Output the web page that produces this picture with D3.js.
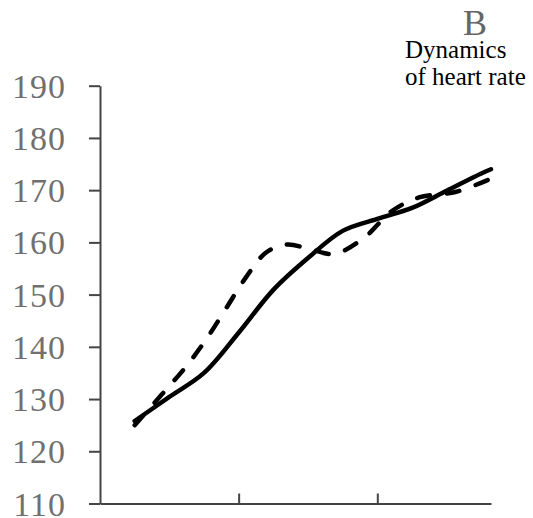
<!DOCTYPE html>
<html>
<head>
<meta charset="utf-8">
<script src="https://cdn.jsdelivr.net/npm/d3@7"></script>
<style>
  html, body { margin: 0; padding: 0; background: #fff; }
  svg { display: block; }
</style>
</head>
<body>
<svg id="chart" width="533" height="518"></svg>
<script>
// Data (x in axis units: tick marks at 1 and 2)
const yTicks = [110, 120, 130, 140, 150, 160, 170, 180, 190];
const xTicks = [1, 2];

const solidX = [0.25, 0.5, 0.75, 1.0, 1.25, 1.5, 1.75, 2.0, 2.25, 2.5, 2.75, 2.82];
const solidY = [125.8, 130.4, 135.0, 142.7, 150.9, 157.0, 162.2, 164.5, 166.6, 169.9, 173.2, 174.0];

const dashedX = [0.25, 0.45, 0.62, 0.77, 0.91, 1.05, 1.2, 1.35, 1.5, 1.69, 1.91, 2.1, 2.3, 2.57, 2.82];
const dashedY = [125.0, 131.0, 136.2, 141.6, 147.4, 153.2, 158.1, 159.6, 158.8, 157.8, 161.0, 165.9, 168.6, 169.7, 172.2];

const titleLetter = "B";
const titleLines = ["Dynamics", "of heart rate"];

const svg = d3.select("#chart");

const x = d3.scaleLinear().domain([0, 2.82]).range([100, 491]);
const y = d3.scaleLinear().domain([110, 190]).range([503.5, 85.7]);

// Y axis
const yAxis = svg.append("g")
  .attr("transform", `translate(${x(0)},0)`)
  .call(d3.axisLeft(y).tickValues(yTicks).tickSizeInner(11).tickSizeOuter(0).tickPadding(23).tickFormat(d3.format("d")));
yAxis.select(".domain").attr("stroke", "#444").attr("stroke-width", 2);
yAxis.selectAll(".tick line").attr("stroke", "#444").attr("stroke-width", 2);
yAxis.selectAll(".tick text")
  .attr("font-family", "'Liberation Serif', 'Times New Roman', serif")
  .attr("font-size", 34)
  .attr("letter-spacing", 1)
  .attr("fill", "#707070")
  .attr("dy", "0.34em");

// X axis
const xAxis = svg.append("g")
  .attr("transform", `translate(0,${y(110)})`)
  .call(d3.axisBottom(x).tickValues(xTicks).tickSizeInner(-10).tickSizeOuter(0).tickFormat(""));
xAxis.select(".domain").attr("stroke", "#444").attr("stroke-width", 2);
xAxis.selectAll(".tick line").attr("stroke", "#444").attr("stroke-width", 2);

// Lines
const line = d3.line()
  .x(d => x(d[0]))
  .y(d => y(d[1]))
  .curve(d3.curveCatmullRom.alpha(0.5));

svg.append("path")
  .datum(solidX.map((v, i) => [v, solidY[i]]))
  .attr("d", line)
  .attr("fill", "none")
  .attr("stroke", "#000")
  .attr("stroke-width", 4.5)
  .attr("stroke-linecap", "round");

svg.append("path")
  .datum(dashedX.map((v, i) => [v, dashedY[i]]))
  .attr("d", line)
  .attr("fill", "none")
  .attr("stroke", "#000")
  .attr("stroke-width", 4.5)
  .attr("stroke-linecap", "round")
  .attr("stroke-dasharray", "13,17");

// Title
svg.append("text")
  .attr("x", 475)
  .attr("y", 35)
  .attr("text-anchor", "middle")
  .attr("font-family", "'Liberation Serif', 'Times New Roman', serif")
  .attr("font-size", 36)
  .attr("fill", "#666")
  .text(titleLetter);

svg.selectAll("text.sub")
  .data(titleLines)
  .enter().append("text")
  .attr("class", "sub")
  .attr("x", 405)
  .attr("y", (d, i) => 58 + i * 27)
  .attr("font-family", "'Liberation Serif', 'Times New Roman', serif")
  .attr("font-size", 25)
  .attr("fill", "#000")
  .text(d => d);
</script>
</body>
</html>
